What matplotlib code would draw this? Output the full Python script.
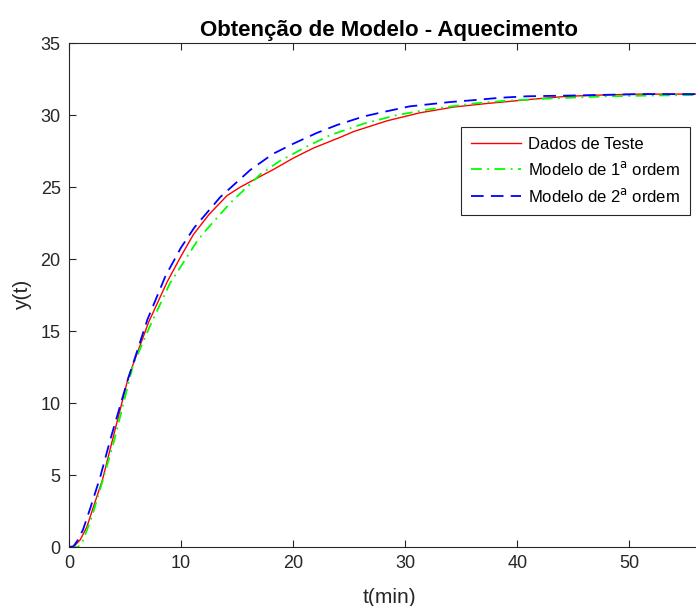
import matplotlib
matplotlib.use("Agg")
import matplotlib.pyplot as plt

plt.rcParams['font.family'] = ['Liberation Sans', 'DejaVu Sans']

# Dados de Teste (leitura do grafico)
t_dados = [0, 0.4, 1.0, 1.6, 2.1, 3.0, 3.9, 5.3, 7.1, 8.75, 10, 11.1, 12.5, 14.1, 15.3,
           16.5, 18.2, 20, 21.8, 24.2, 25.4, 28.4, 31.3, 34.3, 37.3, 39.4, 41.4, 44.5,
           48, 51, 57.2]
y_dados = [0, 0, 0.5, 1.4, 2.6, 4.7, 7.5, 11.8, 15.6, 18.4, 20.2, 21.7, 23.1, 24.4, 25.0,
           25.5, 26.2, 27.0, 27.7, 28.45, 28.85, 29.6, 30.15, 30.55, 30.8, 30.95, 31.1, 31.3,
           31.4, 31.45, 31.45]

# Modelo de 1a ordem
t_m1 = [0, 0.8, 1.2, 2.0, 3.0, 4.0, 5.7, 7.2, 9.0, 11.4, 12, 14.4, 17.1, 18.8, 21.2,
        23.3, 26.3, 29.3, 32.2, 36.1, 39.1, 43, 48, 52, 57.2]
y_m1 = [0, 0, 0.35, 2.0, 4.6, 7.3, 12.6, 15.3, 18.3, 21.2, 21.8, 23.9, 25.9, 26.8, 27.8,
        28.6, 29.4, 30.0, 30.4, 30.8, 31.0, 31.15, 31.3, 31.35, 31.4]

# Modelo de 2a ordem
t_m2 = [0, 0.4, 0.8, 1.25, 1.9, 2.8, 3.7, 5.2, 7.0, 8.6, 10, 11.2, 13.5, 16.2, 18.2, 20,
        22.1, 23.9, 26.3, 28, 30.4, 34, 36.4, 38.5, 40.9, 44.7, 51, 57.2]
y_m2 = [0, 0.05, 0.5, 1.2, 2.7, 4.9, 7.5, 11.5, 15.8, 18.8, 20.8, 22.2, 24.3, 26.2, 27.3,
        28.0, 28.75, 29.3, 29.9, 30.2, 30.6, 30.9, 31.05, 31.2, 31.3, 31.35, 31.45, 31.45]

fig = plt.figure(figsize=(6.96, 6.06), dpi=100)
ax = fig.add_axes([69/696, 59/606, 641/696, 504/606])

ax.plot(t_dados, y_dados, color='#ff0000', lw=1.0, label='Dados de Teste')
ax.plot(t_m1, y_m1, color='#00ff00', lw=1.3, ls=(0, (6, 3, 1, 3)), label='Modelo de 1$^\\mathrm{a}$ ordem')
ax.plot(t_m2, y_m2, color='#0000ff', lw=1.3, ls=(0, (7, 4)), label='Modelo de 2$^\\mathrm{a}$ ordem')

ax.set_xlim(0, 57.2)
ax.set_ylim(0, 35)
ax.set_xticks(range(0, 60, 10))
ax.set_yticks(range(0, 40, 5))

gray = '#262626'
for s in ax.spines.values():
    s.set_color(gray)
    s.set_linewidth(0.8)
ax.tick_params(direction='in', length=5, width=0.8, top=True, right=True,
               colors=gray, labelsize=13, pad=6)

ax.set_title('Obtenção de Modelo - Aquecimento', fontsize=16, fontweight='bold', pad=5)
ax.set_xlabel('t(min)', fontsize=15, color=gray, labelpad=11)
ax.set_ylabel('y(t)', fontsize=15, color=gray, labelpad=6)

leg = ax.legend(loc='upper left', bbox_to_anchor=(461/696, 1 - 127/606),
                bbox_transform=fig.transFigure, borderaxespad=0, fontsize=12,
                fancybox=False, edgecolor=gray, framealpha=1, handlelength=3.0,
                handletextpad=0.4, labelspacing=0.5, borderpad=0.6)
leg.get_frame().set_linewidth(0.8)

fig.savefig('out.png', dpi=100)
